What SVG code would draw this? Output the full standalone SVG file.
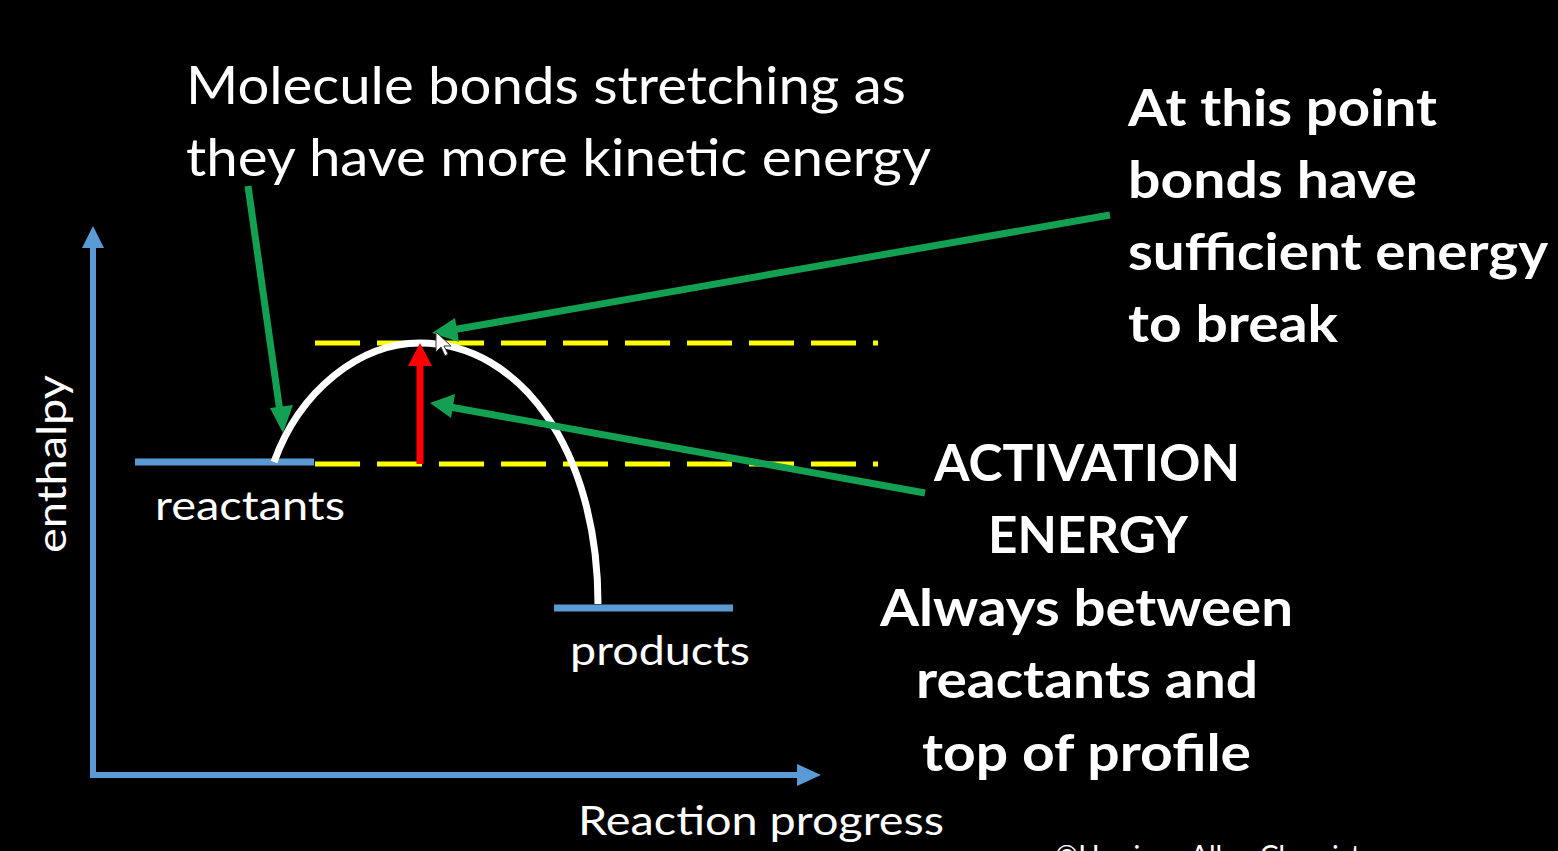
<svg xmlns="http://www.w3.org/2000/svg" width="1558" height="851" viewBox="0 0 1558 851">
<defs>
<style>
.t{font-family:Lato,"Open Sans","Liberation Sans",sans-serif;fill:#fff}
.b{font-weight:bold}
.ax{stroke:#5b9bd5;stroke-width:6;fill:none}
.lvl{stroke:#5b9bd5;stroke-width:7}
.dash{stroke:#ffff00;stroke-width:5;stroke-dasharray:45 17}
.grn{stroke:#13a052;stroke-width:7;fill:none}
</style>
</defs>
<rect x="0" y="0" width="1558" height="851" fill="#000"/>
<g id="axes">
<line class="ax" x1="93" y1="778" x2="93" y2="245"/>
<polygon points="93,226 82,248 104,248" fill="#5b9bd5"/>
<line class="ax" x1="90" y1="775" x2="800" y2="775"/>
<polygon points="821,775 797,764 797,786" fill="#5b9bd5"/>
<text class="t" font-size="40" transform="translate(66,464) rotate(-90)" text-anchor="middle" textLength="178" lengthAdjust="spacingAndGlyphs">enthalpy</text>
<text class="t" x="578" y="835" font-size="40" textLength="366" lengthAdjust="spacingAndGlyphs">Reaction progress</text>
</g>
<g id="levels">
<line class="dash" x1="315" y1="343" x2="878" y2="343"/>
<line class="dash" x1="315" y1="464" x2="878" y2="464"/>
<line class="lvl" x1="135" y1="462" x2="314" y2="462"/>
<line class="lvl" x1="554" y1="608" x2="733" y2="608"/>
<text class="t" x="155" y="520" font-size="40" textLength="190" lengthAdjust="spacingAndGlyphs">reactants</text>
<text class="t" x="570" y="665" font-size="40" textLength="180" lengthAdjust="spacingAndGlyphs">products</text>
</g>
<g id="profile">
<path d="M274,462 C300,390 360,343 420,343 C520,343 598,450 598,604" stroke="#fff" stroke-width="7" fill="none"/>
</g>
<g id="activation-arrow">
<line x1="420" y1="464" x2="420" y2="360" stroke="#ff0000" stroke-width="7"/>
<polygon points="420,343 408,366 432,366" fill="#ff0000"/>
</g>
<g id="connectors">
<line class="grn" x1="248" y1="186" x2="280" y2="412"/>
<polygon points="283,433 270,408 293,405" fill="#13a052"/>
<line class="grn" x1="1110" y1="215" x2="452" y2="330"/>
<polygon points="432,333 455,318 459,342" fill="#13a052"/>
<line class="grn" x1="925" y1="493" x2="450" y2="407"/>
<polygon points="430,403 455,394 451,418" fill="#13a052"/>
</g>
<g id="cursor">
<polygon points="436,332 436,352 441,347 445,356 448,354 444,346 451,346" fill="#fff" stroke="#333" stroke-width="1"/>
</g>
<g id="label-stretching">
<text class="t" x="186" y="104" font-size="52" textLength="720" lengthAdjust="spacingAndGlyphs">Molecule bonds stretching as</text>
<text class="t" x="186" y="176" font-size="52" textLength="745" lengthAdjust="spacingAndGlyphs">they have more kinetic energy</text>
</g>
<g id="label-break">
<text class="t b" x="1128" y="126" font-size="52" textLength="309" lengthAdjust="spacingAndGlyphs">At this point</text>
<text class="t b" x="1128" y="198" font-size="52" textLength="289" lengthAdjust="spacingAndGlyphs">bonds have</text>
<text class="t b" x="1128" y="270" font-size="52" textLength="420" lengthAdjust="spacingAndGlyphs">sufficient energy</text>
<text class="t b" x="1128" y="342" font-size="52" textLength="210" lengthAdjust="spacingAndGlyphs">to break</text>
</g>
<g id="label-activation">
<text class="t b" x="934" y="481" font-size="52" textLength="306" lengthAdjust="spacingAndGlyphs">ACTIVATION</text>
<text class="t b" x="988" y="553" font-size="52" textLength="200" lengthAdjust="spacingAndGlyphs">ENERGY</text>
<text class="t b" x="880" y="626" font-size="52" textLength="413" lengthAdjust="spacingAndGlyphs">Always between</text>
<text class="t b" x="916" y="698" font-size="52" textLength="342" lengthAdjust="spacingAndGlyphs">reactants and</text>
<text class="t b" x="922" y="771" font-size="52" textLength="329" lengthAdjust="spacingAndGlyphs">top of profile</text>
</g>
<g id="credit">
<text class="t" x="1055" y="866" font-size="28">©Harrison Allen Chemistry</text>
</g>
</svg>
